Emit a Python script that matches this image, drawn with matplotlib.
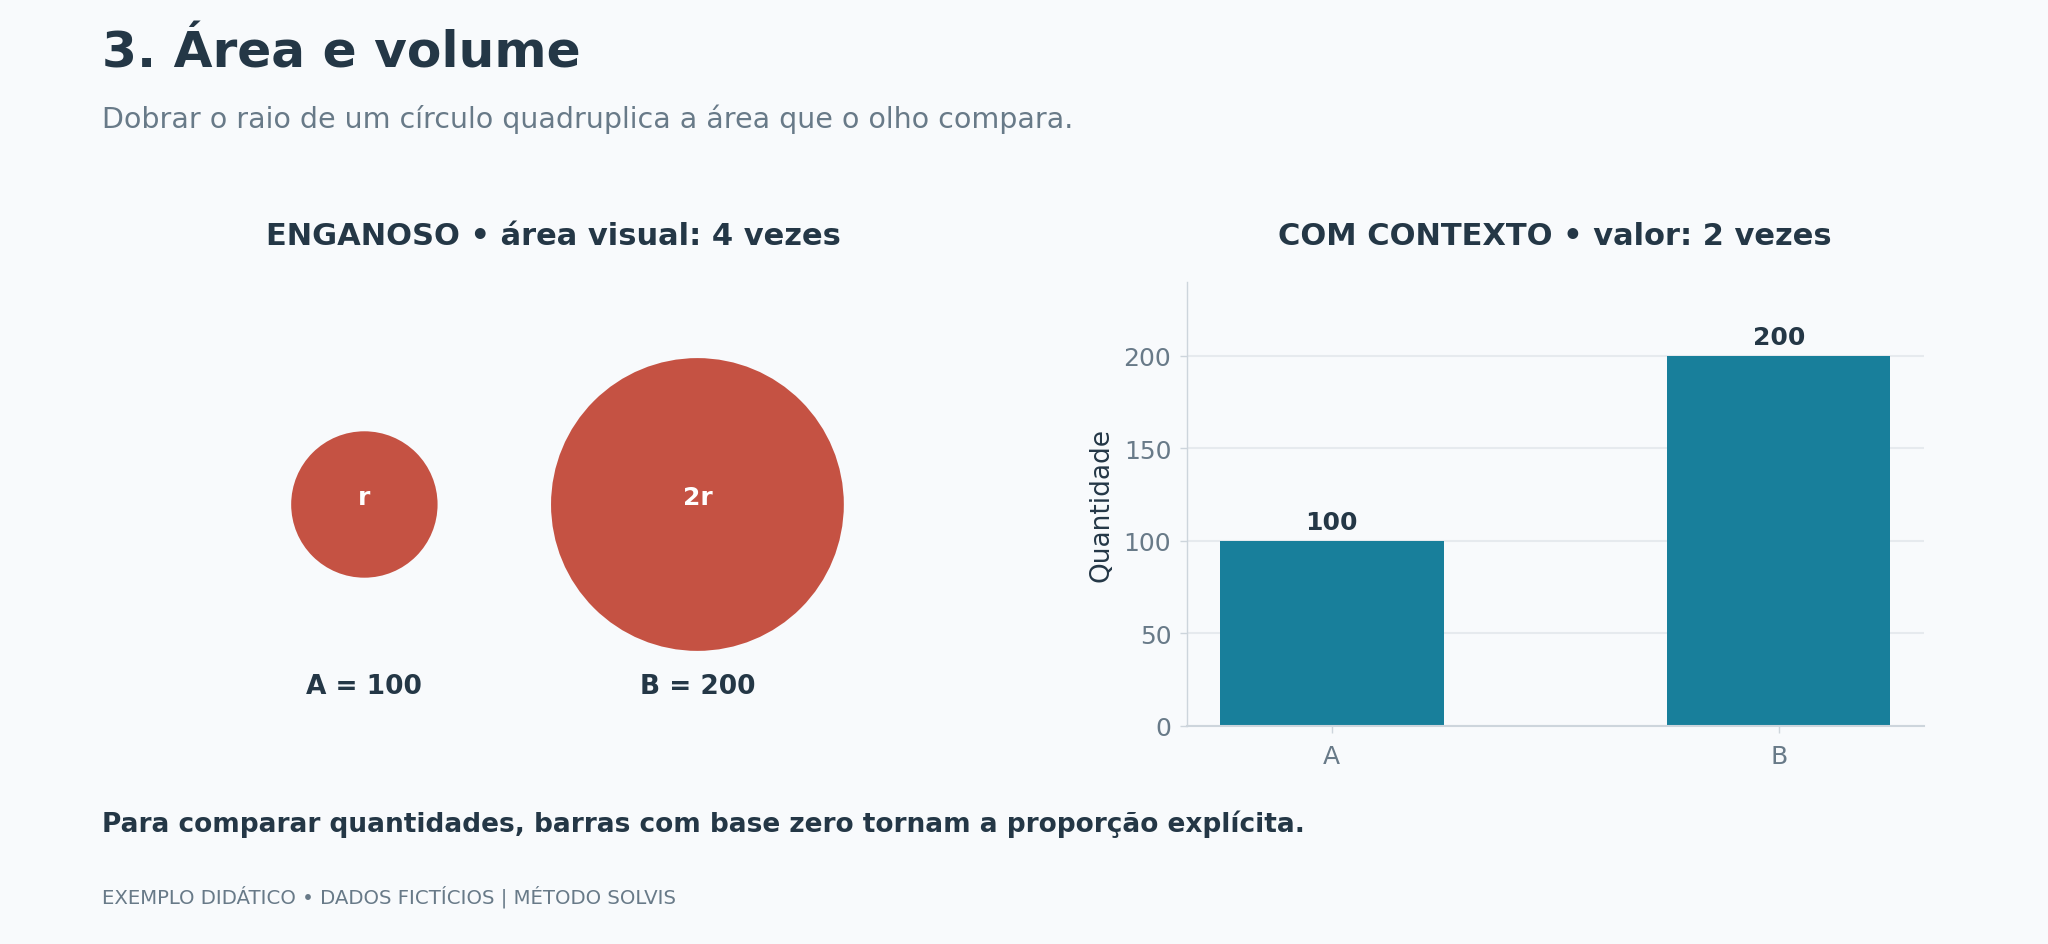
import matplotlib
matplotlib.use("Agg")
import matplotlib.pyplot as plt
from matplotlib.patches import Circle

# ---- data ----
categories = ["A", "B"]
values = [100, 200]
radius_mult = [1, 2]            # raio: r e 2r
radius_labels = ["r", "2r"]
yticks = [0, 50, 100, 150, 200]

title = "3. Área e volume"
subtitle = "Dobrar o raio de um círculo quadruplica a área que o olho compara."
left_title = "ENGANOSO • área visual: 4 vezes"
right_title = "COM CONTEXTO • valor: 2 vezes"
note = "Para comparar quantidades, barras com base zero tornam a proporção explícita."
footer = "EXEMPLO DIDÁTICO • DADOS FICTÍCIOS | MÉTODO SOLVIS"

# ---- style ----
BG = "#F8FAFC"
DARK = "#243746"
GREY = "#687A88"
RED = "#C55243"
TEAL = "#187F9B"
GRID = "#E6EAEE"
SPINE = "#CDD5DC"

plt.rcParams["font.family"] = ["DejaVu Sans"]

W, H = 2048, 945
fig = plt.figure(figsize=(W / 100, H / 100), dpi=100, facecolor=BG)

def fx(px):
    return px / W

def fy(py):
    return 1 - py / H

# header
fig.text(fx(102), fy(67), title, fontsize=36.2, fontweight="bold", color=DARK, va="baseline", ha="left")
fig.text(fx(102), fy(128), subtitle, fontsize=20.5, color=GREY, va="baseline", ha="left")

# axes geometry (pixels)
ax_top, ax_bot = 282.7, 726.7
r_left, r_right = 1186.6, 1924.0
ax_w = r_right - r_left
ax_h = ax_bot - ax_top
l_left = 553.0 - ax_w / 2

# ---- left panel: circles ----
scale = 73.2          # pixels per unit r
axl = fig.add_axes([fx(l_left), fy(ax_bot), ax_w / W, ax_h / H])
axl.set_facecolor(BG)
x0 = 0.04
y0 = -0.022
axl.set_xlim(x0, x0 + ax_w / scale)
axl.set_ylim(y0, y0 + ax_h / scale)
axl.axis("off")

cy = 3.0
gap = 1.55
x = 2.5
prev_r = None
for cat, val, rm, rl in zip(categories, values, radius_mult, radius_labels):
    if prev_r is not None:
        x = x + prev_r + gap + rm
    axl.add_patch(Circle((x, cy), rm, facecolor=RED, edgecolor="none"))
    axl.text(x, cy, rl, ha="center", va="baseline", color="white", fontsize=18, fontweight="bold")
    axl.text(x, 0.421, f"{cat} = {val}", ha="center", va="baseline", color=DARK, fontsize=19, fontweight="bold")
    prev_r = rm

axl.set_title(left_title, fontsize=22, fontweight="bold", color=DARK, pad=27)

# ---- right panel: bars ----
axr = fig.add_axes([fx(r_left), fy(ax_bot), ax_w / W, ax_h / H])
axr.set_facecolor(BG)
bars = axr.bar(categories, values, width=0.5, color=TEAL, zorder=2)
axr.set_ylim(0, 240)
axr.set_yticks(yticks)
axr.grid(axis="y", color=GRID, linewidth=1.5, zorder=0)
axr.set_axisbelow(True)
for s in ["top", "right"]:
    axr.spines[s].set_visible(False)
axr.spines["left"].set_color(SPINE)
axr.spines["left"].set_linewidth(1.0)
axr.spines["bottom"].set_color(SPINE)
axr.spines["bottom"].set_linewidth(1.5)
axr.tick_params(axis="both", colors=SPINE, labelcolor=GREY, labelsize=18, length=5, width=1, pad=6)
axr.tick_params(axis="x", pad=8)
axr.set_ylabel("Quantidade", fontsize=19, color=DARK, labelpad=6.6)
for b, v in zip(bars, values):
    axr.annotate(f"{v}", (b.get_x() + b.get_width() / 2, v), xytext=(0, 4.5),
                 textcoords="offset points", ha="center", va="bottom",
                 fontsize=18, fontweight="bold", color=DARK)
axr.set_title(right_title, fontsize=22, fontweight="bold", color=DARK, pad=27)

# footer texts
fig.text(fx(102), fy(831.7), note, fontsize=19, fontweight="bold", color=DARK, va="baseline", ha="left")
fig.text(fx(102), fy(903.3), footer, fontsize=14.2, color=GREY, va="baseline", ha="left")

fig.savefig("out.png", dpi=100, facecolor=BG)
